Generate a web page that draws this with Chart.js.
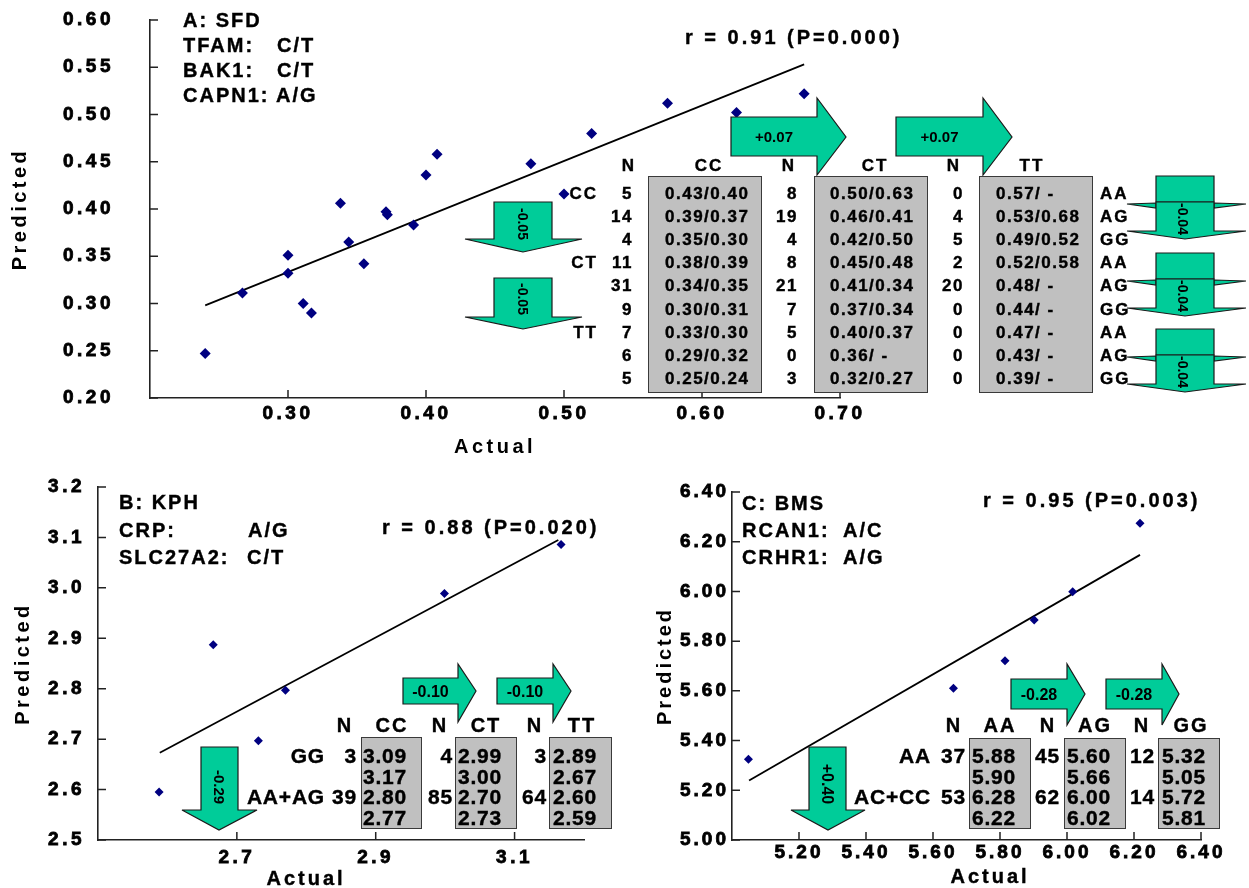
<!DOCTYPE html>
<html lang="en">
<head>
<meta charset="UTF-8" />
<title>Predicted vs Actual</title>
<script src="https://cdn.jsdelivr.net/npm/chart.js"></script>
<style>
  body { margin: 0; background: #fff; }
  #fig { position: relative; width: 1249px; height: 888px; overflow: hidden; font-family: "Liberation Sans", Arial, sans-serif; }
  canvas { position: absolute; }
  .t { position: absolute; white-space: pre; line-height: 1; font-weight: bold; color: #000; -webkit-text-stroke: 0.4px #000; }
  .lab { font-size: 20px; letter-spacing: 2px; }
  .rr { font-size: 20px; letter-spacing: 3px; }
  .ax { font-size: 20px; letter-spacing: 3px; }
  .ta { font-size: 17px; letter-spacing: 1.5px; }
  .th { font-size: 17px; letter-spacing: 2px; }
  .tb { font-size: 21px; letter-spacing: 0.8px; }
  .gbox { position: absolute; background: #c0c0c0; border: 1.5px solid #3a3a3a; box-sizing: border-box; }
  #arrows { position: absolute; left: 0; top: 0; }
</style>
</head>
<body>
<div id="fig">
  <canvas id="chartA" width="880" height="465" style="left:0;top:0"></canvas>
  <canvas id="chartB" width="620" height="418" style="left:0;top:470px"></canvas>
  <canvas id="chartC" width="609" height="418" style="left:640px;top:470px"></canvas>
  <svg id="arrows" width="1249" height="888" xmlns="http://www.w3.org/2000/svg"></svg>
</div>
<script>
// ---- A: SFD ----
const sfdActual    = [0.240, 0.267, 0.300, 0.300, 0.311, 0.317, 0.338, 0.344, 0.355, 0.371, 0.372, 0.391, 0.400, 0.408, 0.476, 0.500, 0.520, 0.575, 0.625, 0.674];
const sfdPredicted = [0.247, 0.311, 0.351, 0.332, 0.300, 0.290, 0.406, 0.365, 0.342, 0.397, 0.394, 0.383, 0.436, 0.458, 0.448, 0.416, 0.480, 0.512, 0.502, 0.522];
const sfdFitX = [0.240, 0.674];
const sfdFitY = [0.298, 0.553];
const sfdXTicks = [0.30, 0.40, 0.50, 0.60, 0.70];
const sfdYTicks = [0.20, 0.25, 0.30, 0.35, 0.40, 0.45, 0.50, 0.55, 0.60];

const sfdTfam  = ["CC", "", "", "CT", "", "", "TT", "", ""];
const sfdCapn  = ["AA", "AG", "GG", "AA", "AG", "GG", "AA", "AG", "GG"];
const sfdN_CC  = [5, 14, 4, 11, 31, 9, 7, 6, 5];
const sfdCC    = ["0.43/0.40", "0.39/0.37", "0.35/0.30", "0.38/0.39", "0.34/0.35", "0.30/0.31", "0.33/0.30", "0.29/0.32", "0.25/0.24"];
const sfdN_CT  = [8, 19, 4, 8, 21, 7, 5, 0, 3];
const sfdCT    = ["0.50/0.63", "0.46/0.41", "0.42/0.50", "0.45/0.48", "0.41/0.34", "0.37/0.34", "0.40/0.37", "0.36/ -", "0.32/0.27"];
const sfdN_TT  = [0, 4, 5, 2, 20, 0, 0, 0, 0];
const sfdTT    = ["0.57/ -", "0.53/0.68", "0.49/0.52", "0.52/0.58", "0.48/ -", "0.44/ -", "0.47/ -", "0.43/ -", "0.39/ -"];

// ---- B: KPH ----
const kphActual    = [2.588, 2.666, 2.731, 2.770, 2.999, 3.167];
const kphPredicted = [2.595, 2.887, 2.697, 2.797, 2.989, 3.086];
const kphFitX = [2.589, 3.163];
const kphFitY = [2.673, 3.095];
const kphXTicks = [2.7, 2.9, 3.1];
const kphYTicks = [2.5, 2.6, 2.7, 2.8, 2.9, 3.0, 3.1, 3.2];

const kphCrp  = ["GG", "", "AA+AG", ""];
const kphN_CC = [3, "", 39, ""];
const kphCC   = ["3.09", "3.17", "2.80", "2.77"];
const kphN_CT = [4, "", 85, ""];
const kphCT   = ["2.99", "3.00", "2.70", "2.73"];
const kphN_TT = [3, "", 64, ""];
const kphTT   = ["2.89", "2.67", "2.60", "2.59"];

// ---- C: BMS ----
const bmsActual    = [5.049, 5.661, 5.815, 5.902, 6.017, 6.218];
const bmsPredicted = [5.325, 5.610, 5.721, 5.885, 5.999, 6.274];
const bmsFitX = [5.051, 6.218];
const bmsFitY = [5.239, 6.147];
const bmsXTicks = [5.20, 5.40, 5.60, 5.80, 6.00, 6.20, 6.40];
const bmsYTicks = [5.00, 5.20, 5.40, 5.60, 5.80, 6.00, 6.20, 6.40];

const bmsRcan = ["AA", "", "AC+CC", ""];
const bmsN_AA = [37, "", 53, ""];
const bmsAA   = ["5.88", "5.90", "6.28", "6.22"];
const bmsN_AG = [45, "", 62, ""];
const bmsAG   = ["5.60", "5.66", "6.00", "6.02"];
const bmsN_GG = [12, "", 14, ""];
const bmsGG   = ["5.32", "5.05", "5.72", "5.81"];

// inward tick marks on both axes
const inTicks = {
  id: "inTicks",
  afterDraw(chart) {
    const { ctx, chartArea: a, scales: { x, y } } = chart;
    ctx.save();
    ctx.strokeStyle = "#222";
    ctx.lineWidth = 1.5;
    ctx.beginPath();
    x.ticks.forEach(t => { const px = x.getPixelForValue(t.value); ctx.moveTo(px, a.bottom); ctx.lineTo(px, a.bottom - 8); });
    y.ticks.forEach(t => { const py = y.getPixelForValue(t.value); ctx.moveTo(a.left, py); ctx.lineTo(a.left + 8, py); });
    ctx.stroke();
    ctx.restore();
  }
};

// wide tracking like the original export
const spacing = {
  id: "spacing",
  defaults: { px: "3px" },
  beforeDraw(chart, args, opts) { chart.ctx.letterSpacing = opts.px; }
};

function panel(id, c) {
  const font = { family: "'Liberation Sans', Arial, sans-serif", size: 19, weight: "bold" };
  const tfont = { family: "'Liberation Sans', Arial, sans-serif", size: 20, weight: "bold" };
  return new Chart(document.getElementById(id), {
    type: "scatter",
    data: {
      datasets: [
        {
          data: c.x.map((v, i) => ({ x: v, y: c.y[i] })),
          pointStyle: "rectRot",
          pointRadius: c.r,
          backgroundColor: "#000080",
          borderColor: "#000080",
          borderWidth: 0
        },
        {
          type: "line",
          data: c.fitX.map((v, i) => ({ x: v, y: c.fitY[i] })),
          borderColor: "#000",
          borderWidth: 1.8,
          pointRadius: 0,
          fill: false
        }
      ]
    },
    options: {
      responsive: false,
      animation: false,
      layout: { padding: c.pad },
      plugins: { legend: { display: false }, tooltip: { enabled: false }, spacing: { px: c.ls } },
      scales: {
        x: {
          type: "linear", min: c.xMin, max: c.xMax,
          afterFit: s => { s.height = c.xh; },
          afterBuildTicks: s => { s.ticks = c.xTicks.map(v => ({ value: v })); },
          ticks: { font: font, color: "#000", padding: c.xPad, textStrokeColor: "#000", textStrokeWidth: 0.8, callback: v => v.toFixed(c.xDec) },
          grid: { display: false, drawTicks: false },
          border: { color: "#222", width: 1.6 },
          title: { display: c.xTitle, text: "Actual", font: tfont, color: "#000", padding: { bottom: c.xtPad } }
        },
        y: {
          type: "linear", min: c.yMin, max: c.yMax,
          // fixed axis width; drop the label overhang so the plot keeps its full height
          afterFit: s => { s.width = c.yw; s.paddingTop = 0; s.paddingBottom = 0; },
          afterBuildTicks: s => { s.ticks = c.yTicks.map(v => ({ value: v })); },
          ticks: { font: font, color: "#000", padding: c.yPad, textStrokeColor: "#000", textStrokeWidth: 0.8, callback: v => v.toFixed(c.yDec) },
          grid: { display: false, drawTicks: false },
          border: { color: "#222", width: 1.6 },
          title: { display: true, text: "Predicted", font: tfont, color: "#000", padding: { top: c.ytPad } }
        }
      }
    },
    plugins: [inTicks, spacing]
  });
}

panel("chartA", {
  x: sfdActual, y: sfdPredicted, fitX: sfdFitX, fitY: sfdFitY, r: 5.5,
  xMin: 0.20, xMax: 0.70, yMin: 0.20, yMax: 0.60, xTicks: sfdXTicks, yTicks: sfdYTicks, xDec: 2, yDec: 2,
  pad: { top: 20, right: 40, left: 0, bottom: 0 }, xh: 67, yw: 150, xPad: 4, yPad: 36,
  xTitle: true, xtPad: 6, ytPad: 8, ls: "3.5px"
});
panel("chartB", {
  x: kphActual, y: kphPredicted, fitX: kphFitX, fitY: kphFitY, r: 4.5,
  xMin: 2.5, xMax: 3.2, yMin: 2.5, yMax: 3.2, xTicks: kphXTicks, yTicks: kphYTicks, xDec: 1, yDec: 1,
  pad: { top: 17, right: 36, left: 0, bottom: 0 }, xh: 48, yw: 98, xPad: 6, yPad: 13,
  xTitle: false, xtPad: 0, ytPad: 11, ls: "3.5px"
});
panel("chartC", {
  x: bmsActual, y: bmsPredicted, fitX: bmsFitX, fitY: bmsFitY, r: 4.5,
  xMin: 5.0, xMax: 6.4, yMin: 5.0, yMax: 6.4, xTicks: bmsXTicks, yTicks: bmsYTicks, xDec: 2, yDec: 2,
  pad: { top: 22, right: 48, left: 0, bottom: 0 }, xh: 48, yw: 92, xPad: 1, yPad: 3,
  xTitle: false, xtPad: 0, ytPad: 13, ls: "3px"
});

// ---- text, table boxes and arrows ----
const fig = document.getElementById("fig");
function put(x, y, s, cls, align) {
  const d = document.createElement("div");
  d.className = "t " + cls;
  d.textContent = s;
  d.style.left = x + "px";
  d.style.top = y + "px";
  const tx = align === "r" ? "-100%" : align === "c" ? "-50%" : "0";
  d.style.transform = "translate(" + tx + ", -50%)";
  fig.appendChild(d);
}
function box(x0, y0, x1, y1) {
  const d = document.createElement("div");
  d.className = "gbox";
  d.style.left = x0 + "px"; d.style.top = y0 + "px";
  d.style.width = (x1 - x0) + "px"; d.style.height = (y1 - y0) + "px";
  fig.appendChild(d);
}

// panel A labels
put(183, 20, "A: SFD", "lab");
put(183, 45, "TFAM:", "lab"); put(277, 45, "C/T", "lab");
put(183, 70, "BAK1:", "lab"); put(277, 70, "C/T", "lab");
put(183, 95, "CAPN1:", "lab"); put(276, 95, "A/G", "lab");
put(685, 37, "r = 0.91 (P=0.000)", "rr");

box(648, 176, 762, 393); box(814, 176, 928, 393); box(979, 176, 1093, 393);
put(629, 165, "N", "th", "c"); put(709, 165, "CC", "th", "c");
put(789, 165, "N", "th", "c"); put(875, 165, "CT", "th", "c");
put(954, 165, "N", "th", "c"); put(1032, 165, "TT", "th", "c");
sfdCC.forEach((v, i) => {
  const y = 193 + i * 23.1;
  if (sfdTfam[i]) put(598, y, sfdTfam[i], "th", "r");
  put(633, y, String(sfdN_CC[i]), "ta", "r");
  put(665, y, v, "ta");
  put(798, y, String(sfdN_CT[i]), "ta", "r");
  put(830, y, sfdCT[i], "ta");
  put(964, y, String(sfdN_TT[i]), "ta", "r");
  put(996, y, sfdTT[i], "ta");
  put(1100, y, sfdCapn[i], "th");
});

// panel B labels
put(119, 502, "B: KPH", "lab");
put(119, 530, "CRP:", "lab"); put(248, 530, "A/G", "lab");
put(119, 557, "SLC27A2:", "lab"); put(247, 557, "C/T", "lab");
put(382, 527, "r = 0.88 (P=0.020)", "rr");
put(306, 878, "Actual", "ax", "c");

box(361, 737, 422, 829); box(455, 737, 517, 829); box(549, 737, 612, 829);
put(345, 725, "N", "lab", "c"); put(392, 725, "CC", "lab", "c");
put(440, 725, "N", "lab", "c"); put(486, 725, "CT", "lab", "c");
put(535, 725, "N", "lab", "c"); put(582, 725, "TT", "lab", "c");
kphCC.forEach((v, i) => {
  const y = 755 + i * 20.7;
  if (kphCrp[i]) put(325, y, kphCrp[i], "tb", "r");
  put(357, y, String(kphN_CC[i]), "tb", "r");
  put(363, y, v, "tb");
  put(453, y, String(kphN_CT[i]), "tb", "r");
  put(458, y, kphCT[i], "tb");
  put(547, y, String(kphN_TT[i]), "tb", "r");
  put(553, y, kphTT[i], "tb");
});

// panel C labels
put(742, 503, "C: BMS", "lab");
put(742, 530, "RCAN1:", "lab"); put(843, 530, "A/C", "lab");
put(742, 557, "CRHR1:", "lab"); put(843, 557, "A/G", "lab");
put(983, 500, "r = 0.95 (P=0.003)", "rr");
put(990, 876, "Actual", "ax", "c");

box(969, 738, 1031, 829); box(1064, 738, 1126, 829); box(1158, 738, 1220, 829);
put(954, 725, "N", "lab", "c"); put(1000, 725, "AA", "lab", "c");
put(1048, 725, "N", "lab", "c"); put(1095, 725, "AG", "lab", "c");
put(1142, 725, "N", "lab", "c"); put(1191, 725, "GG", "lab", "c");
bmsAA.forEach((v, i) => {
  const y = 755 + i * 20.7;
  if (bmsRcan[i]) put(931, y, bmsRcan[i], "tb", "r");
  put(966, y, String(bmsN_AA[i]), "tb", "r");
  put(972, y, v, "tb");
  put(1060, y, String(bmsN_AG[i]), "tb", "r");
  put(1067, y, bmsAG[i], "tb");
  put(1155, y, String(bmsN_GG[i]), "tb", "r");
  put(1162, y, bmsGG[i], "tb");
});

// arrows (svg)
const svg = document.getElementById("arrows");
const NS = "http://www.w3.org/2000/svg";
function poly(pts) {
  const p = document.createElementNS(NS, "polygon");
  p.setAttribute("points", pts.map(q => q.join(",")).join(" "));
  p.setAttribute("fill", "#00cc99");
  p.setAttribute("stroke", "#1a1a1a");
  p.setAttribute("stroke-width", "1.2");
  svg.appendChild(p);
}
function label(x, y, s, size, rot) {
  const t = document.createElementNS(NS, "text");
  t.setAttribute("x", x); t.setAttribute("y", y);
  t.setAttribute("text-anchor", "middle");
  t.setAttribute("dominant-baseline", "central");
  t.setAttribute("font-family", "'Liberation Sans Narrow', 'Liberation Sans', Arial, sans-serif");
  t.setAttribute("font-weight", "bold");
  t.setAttribute("font-size", size);
  if (rot) t.setAttribute("transform", "rotate(90 " + x + " " + y + ")");
  t.textContent = s;
  svg.appendChild(t);
}
function rightArrow(x0, x1, y0, y1, ht, hb, tx, ty, s, size) {
  poly([[x0, y0], [x1, y0], [x1, ht], [tx, ty], [x1, hb], [x1, y1], [x0, y1]]);
  label((x0 + x1) / 2, (y0 + y1) / 2, s, size, false);
}
function downArrow(x0, x1, y0, y1, wl, wr, tx, ty, s, size, ly) {
  poly([[x0, y0], [x1, y0], [x1, y1], [wr, y1], [tx, ty], [wl, y1], [x0, y1]]);
  label((x0 + x1) / 2, ly, s, size, true);
}

rightArrow(731, 817, 117, 156, 98, 175, 846, 137, "+0.07", 15);
rightArrow(896, 983, 117, 156, 98, 175, 1012, 137, "+0.07", 15);
downArrow(494, 552, 202, 239, 465, 582, 523, 252, "-0.05", 14, 224);
downArrow(494, 552, 278, 317, 465, 582, 523, 329, "-0.05", 14, 299);
[176, 253, 329].forEach(T => {
  poly([[1156, T], [1214, T], [1214, T + 26], [1156, T + 26]]);
  poly([[1127, T + 28], [1156, T + 27], [1156, T + 32]]);
  poly([[1214, T + 27], [1246, T + 28], [1214, T + 32]]);
  poly([[1156, T + 26], [1214, T + 26], [1214, T + 55], [1246, T + 55], [1185, T + 63], [1127, T + 55], [1156, T + 55]]);
  label(1183, T + 43, "-0.04", 14, true);
});

rightArrow(403, 458, 678, 704, 664, 722, 476, 691, "-0.10", 16);
rightArrow(497, 553, 678, 704, 664, 722, 571, 691, "-0.10", 16);
downArrow(201, 238, 747, 810, 182, 257, 219, 830, "-0.29", 15, 787);

rightArrow(1011, 1067, 679, 709, 664, 725, 1085, 694, "-0.28", 16);
rightArrow(1106, 1162, 679, 709, 664, 725, 1179, 694, "-0.28", 16);
downArrow(809, 846, 747, 810, 791, 865, 828, 830, "+0.40", 16, 784);
</script>
</body>
</html>
